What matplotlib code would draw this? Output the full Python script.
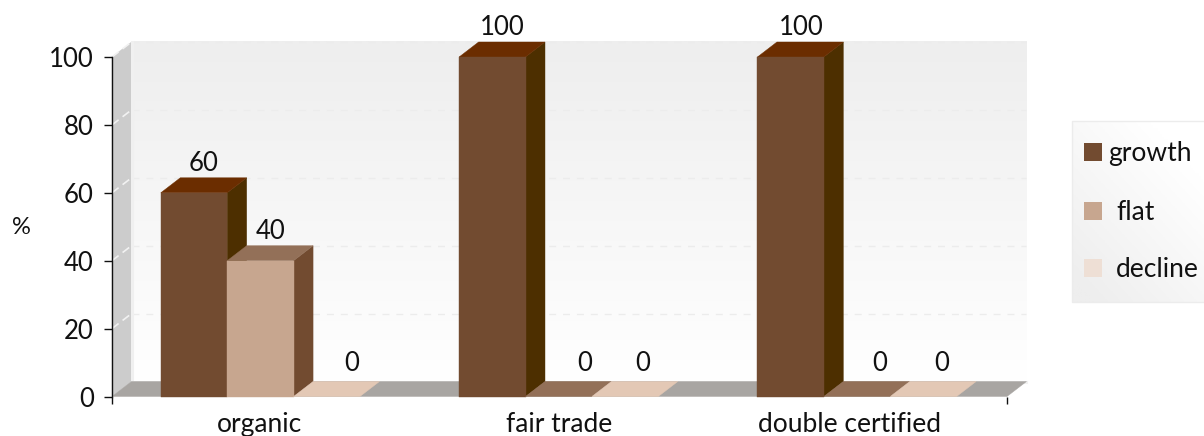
import numpy as np
import matplotlib
matplotlib.use("Agg")
import matplotlib.pyplot as plt
from matplotlib.patches import Polygon, Rectangle
from matplotlib.transforms import ScaledTranslation

categories = ["organic", "fair trade", "double certified"]
series_names = ["growth", "flat", "decline"]
growth = [60, 100, 100]
flat = [40, 0, 0]
decline = [0, 0, 0]
y_ticks = [0, 20, 40, 60, 80, 100]

W, H = 1204, 436
plt.rcParams['font.family'] = ['Lato', 'DejaVu Sans']
FS = 18.5
FS_TXT = 19
fig = plt.figure(figsize=(W / 100, H / 100), dpi=100, facecolor="white")

L, R, T, B = 112, 1007, 57, 396.5
ax = fig.add_axes([L / W, 1 - B / H, (R - L) / W, (B - T) / H])
ax.set_xlim(0, 3)
ax.set_ylim(0, 100)
ax.set_facecolor("none")

pxx = (R - L) / 3
pxy = (B - T) / 100
dx = 19.5 / pxx
dy = 15 / pxy
bw = 66.4 / pxx
shift = -0.8 / pxx

styles = [
    dict(front="#724b30", top="#6b2d00", side="#4d2f00"),
    dict(front="#c7a68f", top="#937058", side="#724b30"),
    dict(front="#eedfd5", top="#e3c8b5", side="#c7a68f"),
]
legend_cols = ["#724b30", "#c7a68f", "#eedfd5"]
# label placement tweaks (px) for each (category, series)
nudge = {(0, 0): (0, 0), (0, 1): (0, 0), (0, 2): (15, 4), (1, 0): (0, 0), (1, 1): (16, 4), (1, 2): (8, 4),
         (2, 0): (1, 0), (2, 1): (13, 4), (2, 2): (9, 4)}


def poly(pts, color, z):
    ax.add_patch(Polygon(pts, closed=True, facecolor=color, edgecolor=color, lw=0.3, clip_on=False, zorder=z))


grad = np.linspace(0, 1, 256).reshape(-1, 1)
cmap = matplotlib.colors.LinearSegmentedColormap.from_list("w", ["#ffffff", "#eeeeee"])
ax.imshow(grad, extent=(dx, 3 + dx, dy, 100 + dy), origin="lower", aspect="auto",
          cmap=cmap, clip_on=False, zorder=0.5)
poly([(0, 0), (dx, dy), (dx, 100 + dy), (0, 100)], "#cccccc", 1)
ax.plot([dx, dx, 3 + dx], [100 + dy, dy, dy], color="#f0f0f0", lw=2.2, clip_on=False, zorder=1.1,
        solid_joinstyle="miter")
poly([(0, 0), (3, 0), (3 + dx, dy), (dx, dy)], "#a8a5a2", 1.2)

for v in y_ticks[1:]:
    ax.plot([dx, 3 + dx], [v + dy, v + dy], color="#ececec", lw=1, ls=(0, (5, 5)), clip_on=False, zorder=0.8)
    ax.plot([0, dx], [v, v + dy], color="#f2f2f2", lw=1.2, ls=(0, (5, 3)), clip_on=False, zorder=1.1)

all_series = [growth, flat, decline]
for c in range(len(categories)):
    start = c + 0.5 - 1.5 * bw + shift
    for s, vals in enumerate(all_series):
        v = vals[c]
        x0, x1 = start + s * bw, start + (s + 1) * bw
        st = styles[s]
        z = 5 + s
        if v > 0:
            poly([(x0, 0), (x1, 0), (x1, v), (x0, v)], st["front"], z + 0.2)
            poly([(x1, 0), (x1 + dx, dy), (x1 + dx, v + dy), (x1, v)], st["side"], z)
        poly([(x0, v), (x1, v), (x1 + dx, v + dy), (x0 + dx, v + dy)], st["top"], z + 0.1)
        n = nudge[(c, s)]
        ax.text((x0 + x1) / 2 + dx / 2 + n[0] / pxx, v + dy + (0.5 * pxy + n[1]) / pxy, str(v),
                ha="center", va="bottom", fontsize=FS, color="#111111", clip_on=False, zorder=20)

for k in ["top", "right", "bottom"]:
    ax.spines[k].set_visible(False)
ax.spines["left"].set_linewidth(1)
ax.spines["left"].set_color("#111111")
ax.set_yticks(y_ticks)
ax.tick_params(axis="y", length=6, width=1, pad=7, labelsize=FS, color="#111111", labelcolor="#111111")
ax.set_xticks([0.5, 1.5, 2.5])
ax.set_xticklabels(categories)
ax.tick_params(axis="x", which="major", length=0, pad=11.5, labelsize=FS_TXT, labelcolor="#111111")
for t, off in zip(ax.get_xticklabels(), [-2, 0, -8]):
    t.set_transform(t.get_transform() + ScaledTranslation(off / 100, 0, fig.dpi_scale_trans))
ax.set_xticks([0, 3], minor=True)
ax.tick_params(axis="x", which="minor", length=5, width=1, color="#111111")

fig.text(21 / W, 1 - 227 / H, "%", ha="center", va="center", fontsize=17, color="#111111")

lax = fig.add_axes([0, 0, 1, 1], facecolor="none")
xx, yy = np.meshgrid(np.linspace(0, 1, 64), np.linspace(0, 1, 64))
cm2 = matplotlib.colors.LinearSegmentedColormap.from_list("l", ["#eeeeee", "#ffffff"])
lax.imshow(1 - np.clip(yy * 0.75 + (1 - xx) * 0.6 - 0.25, 0, 1),
           extent=(1072, 1204, 302, 121), aspect="auto", cmap=cm2, vmin=0, vmax=1, zorder=1)
lax.set_xlim(0, W)
lax.set_ylim(H, 0)
lax.axis("off")
lax.plot([1204, 1072, 1072, 1204], [121, 121, 302, 302], color="#ececec", lw=1, zorder=2)
ly = [151.5, 210.5, 268]
lx = [1108, 1116, 1116]
for name, col, y, x in zip(series_names, legend_cols, ly, lx):
    lax.add_patch(Rectangle((1084, y - 9), 18, 18, facecolor=col, edgecolor="none", zorder=3))
    lax.text(x, y + 1.5, name, ha="left", va="center", fontsize=FS_TXT, color="#111111", zorder=3)

fig.savefig("out.png", dpi=100, facecolor="white")
